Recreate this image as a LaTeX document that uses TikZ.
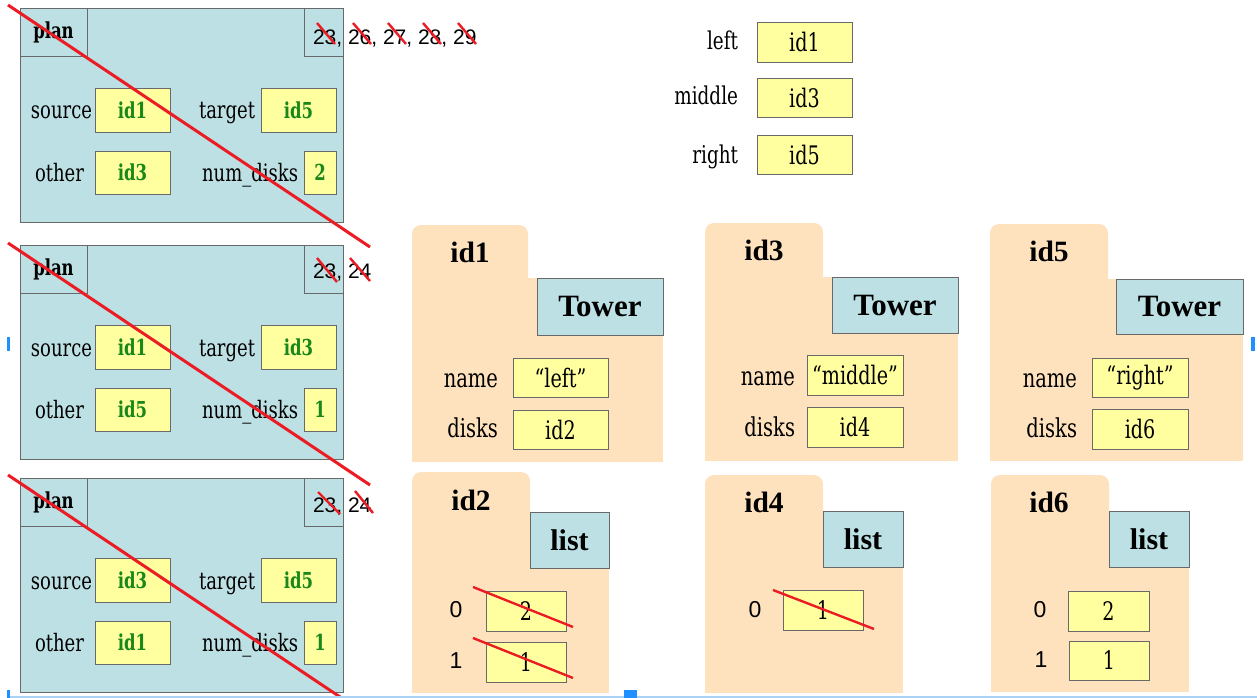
\documentclass[tikz,border=0pt]{standalone}
\usepackage{fontspec}
\newfontfamily\slab{DejaVu Serif}[FakeStretch=0.75]
\newfontfamily\headserif{Liberation Serif}
\newfontfamily\plainsans{Liberation Sans}

\definecolor{planblue}{RGB}{189,224,228}
\definecolor{cellyellow}{RGB}{255,255,160}
\definecolor{peach}{RGB}{254,226,190}
\definecolor{edgegray}{RGB}{105,105,105}
\definecolor{valgreen}{RGB}{25,135,25}
\definecolor{strikered}{RGB}{236,28,36}
\definecolor{selblue}{RGB}{30,144,255}
\definecolor{selline}{RGB}{170,210,245}

\tikzset{
  every node/.style={inner sep=0pt, outer sep=0pt},
  panel/.style={fill=planblue, draw=edgegray, line width=0.9pt},
  cell/.style={fill=cellyellow, draw=edgegray, line width=0.9pt},
  classbox/.style={panel, font=\headserif\bfseries\fontsize{31}{33}\selectfont},
  listbox/.style={panel, font=\headserif\bfseries\fontsize{30}{33}\selectfont},
  heading/.style={font=\headserif\bfseries\fontsize{29.5}{32}\selectfont},
  fieldlbl/.style={font=\slab\fontsize{24}{27}\selectfont, anchor=base east},
  objlbl/.style={font=\slab\fontsize{26}{29}\selectfont, anchor=base east},
  varlbl/.style={font=\slab\fontsize{24.5}{28}\selectfont, anchor=base east},
  greenval/.style={cell, font=\slab\bfseries\fontsize{22}{26}\selectfont, text=valgreen},
  plainval/.style={cell, font=\slab\fontsize{25.5}{29}\selectfont},
  lineno/.style={font=\plainsans\fontsize{21}{24}\selectfont, anchor=base west},
  idx/.style={font=\plainsans\fontsize{23}{26}\selectfont},
  planlbl/.style={panel, font=\slab\bfseries\fontsize{22}{25}\selectfont},
  strikeline/.style={draw=strikered, line width=3pt},
  strikemark/.style={draw=strikered, line width=2.4pt},
}

% a box given by its two corners: style, name, x1, y1, x2, y2, text
\newcommand\boxat[7]{\node[#1, minimum width={#5-#3}, minimum height={#6-#4}] (#2) at ({(#3+#5)/2},{(#4+#6)/2}) {#7};}

% object folder: left, tab right, tab top, body top, body right, bottom
\newcommand\folder[6]{%
  \fill[peach, rounded corners=9pt] (#1,#3) rectangle (#2,#4+14);
  \fill[peach] (#1,#4) rectangle (#5,#6);}

% one call frame: prefix, vertical offset, source, target, other, num_disks
\newcommand\planframe[6]{%
  \begin{scope}[shift={(0,#2)}]
    \node[panel, anchor=north west, minimum width=323, minimum height=214] (#1) at (20,8) {};
    \node[planlbl, anchor=north west, minimum width=67, minimum height=48] (#1name) at (20,8) {plan};
    \node[panel, anchor=north west, minimum width=39, minimum height=48] (#1line) at (304,8) {};
    \node[fieldlbl] (#1srcl) at (92,119) {source};
    \boxat{greenval}{#1src}{95}{88}{170}{132}{#3}
    \node[fieldlbl] (#1tgtl) at (255,119) {target};
    \boxat{greenval}{#1tgt}{261}{88}{336}{132}{#4}
    \node[fieldlbl] (#1othl) at (84,181) {other};
    \boxat{greenval}{#1oth}{95}{151}{170}{194}{#5}
    \node[fieldlbl] (#1ndl) at (298,181) {num\_disks};
    \boxat{greenval}{#1nd}{304}{151}{336}{194}{#6}
  \end{scope}}

\begin{document}
\begin{tikzpicture}[x=1pt, y=-1pt]
\useasboundingbox (0,0) rectangle (1257,698);

% ---- call frames ----
\planframe{fa}{0}{id1}{id5}{id3}{2}
\node[lineno] (fanums) at (313,45) {23, 26, 27, 28, 29};
\planframe{fb}{237}{id1}{id3}{id5}{1}
\node[lineno] (fbnums) at (313,278) {23, 24};
\planframe{fc}{470}{id3}{id5}{id1}{1}
\node[lineno] (fcnums) at (313,512) {23, 24};

% ---- global variables ----
\node[varlbl] (gleft) at (738,50) {left};
\boxat{plainval}{gleftv}{757}{22}{852}{62}{id1}
\node[varlbl] (gmid) at (738,105) {middle};
\boxat{plainval}{gmidv}{757}{78}{852}{117}{id3}
\node[varlbl] (gright) at (738,163) {right};
\boxat{plainval}{grightv}{757}{135}{852}{174}{id5}

% ---- Tower objects ----
\folder{412}{528}{225}{278}{663}{462}
\node[heading] (o1) at (470,252) {id1};
\boxat{classbox}{o1cls}{537}{278}{663}{335}{Tower}
\node[objlbl] (o1namel) at (498,387) {name};
\boxat{plainval}{o1name}{513}{358}{608}{397}{“left”}
\node[objlbl] (o1diskl) at (498,437) {disks};
\boxat{plainval}{o1disk}{513}{410}{608}{449}{id2}

\folder{705}{823}{223}{277}{958}{461}
\node[heading] (o3) at (764,250) {id3};
\boxat{classbox}{o3cls}{832}{277}{958}{333}{Tower}
\node[objlbl] (o3namel) at (795,385) {name};
\boxat{plainval}{o3name}{807}{355}{903}{395}{“middle”}
\node[objlbl] (o3diskl) at (795,436) {disks};
\boxat{plainval}{o3disk}{807}{407}{903}{447}{id4}

\folder{990}{1108}{224}{279}{1243}{461}
\node[heading] (o5) at (1049,251) {id5};
\boxat{classbox}{o5cls}{1116}{279}{1243}{334}{Tower}
\node[objlbl] (o5namel) at (1077,387) {name};
\boxat{plainval}{o5name}{1092}{358}{1188}{397}{“right”}
\node[objlbl] (o5diskl) at (1077,437) {disks};
\boxat{plainval}{o5disk}{1092}{409}{1188}{449}{id6}

% ---- list objects ----
\folder{412}{530}{472}{512}{609}{693}
\node[heading] (o2) at (471,500) {id2};
\boxat{listbox}{o2cls}{530}{512}{609}{568}{list}
\node[idx] (o2i0) at (456,610) {0};
\boxat{plainval}{o2v0}{486}{591}{566}{631}{2}
\node[idx] (o2i1) at (456,661) {1};
\boxat{plainval}{o2v1}{486}{642}{566}{682}{1}

\folder{705}{823}{475}{511}{903}{693}
\node[heading] (o4) at (764,502) {id4};
\boxat{listbox}{o4cls}{823}{511}{903}{567}{list}
\node[idx] (o4i0) at (755,610) {0};
\boxat{plainval}{o4v0}{783}{590}{863}{630}{1}

\folder{991}{1109}{475}{511}{1189}{692}
\node[heading] (o6) at (1049,502) {id6};
\boxat{listbox}{o6cls}{1109}{511}{1189}{567}{list}
\node[idx] (o6i0) at (1040,610) {0};
\boxat{plainval}{o6v0}{1068}{591}{1149}{631}{2}
\node[idx] (o6i1) at (1041,660) {1};
\boxat{plainval}{o6v1}{1069}{641}{1149}{680}{1}

% ---- crossed-out values ----
\draw[strikemark] (473,587) -- (573,627);
\draw[strikemark] (473,638) -- (573,678);
\draw[strikemark] (773,590) -- (874,629);

% ---- crossed-out line numbers ----
\foreach \x in {317,353,388,423,458} \draw[strikemark] (\x,23) -- ++(18,21);
\draw[strikemark] (317,258) -- (337,282);
\draw[strikemark] (350,258) -- (370,281);
\draw[strikemark] (318,492) -- (340,514);
\draw[strikemark] (355,491) -- (373,513);

% ---- finished frames ----
\draw[strikeline] (8,5) -- (370,247);
\draw[strikeline] (8,243) -- (370,485);
\draw[strikeline] (8,475) -- (341.6,698);

% ---- selection handles ----
\draw[selline, line width=1.5pt] (8,697) -- (1257,697);
\fill[selblue] (7,337) rectangle (10,351);
\fill[selblue] (1251,337) rectangle (1255,351);
\fill[selblue] (7,690) rectangle (10,698);
\fill[selblue] (624,690) rectangle (637,698);
\end{tikzpicture}
\end{document}
